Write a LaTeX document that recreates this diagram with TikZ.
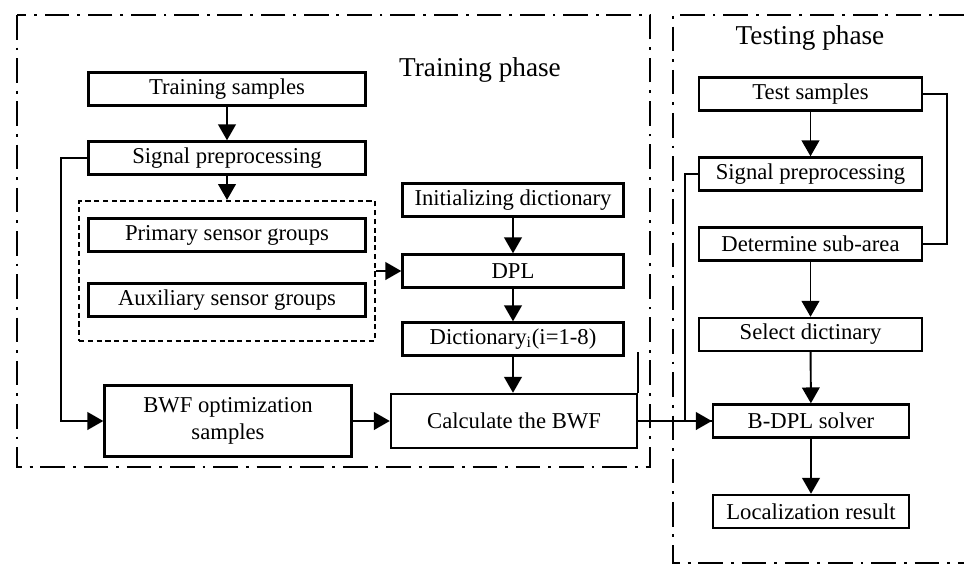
\documentclass[tikz,border=0pt]{standalone}
\usepackage{fontspec}
\setmainfont{Liberation Serif}
\usepackage{tikz}
\usetikzlibrary{positioning,calc,arrows.meta}

\begin{document}
\begin{tikzpicture}[x=0.02cm,y=-0.02cm,
    box/.style={draw,line width=1.4pt,rectangle,minimum height=0.66cm,inner sep=1pt,font=\fontsize{12.9}{15}\selectfont},
    leftbox/.style={box,minimum width=5.54cm},
    midbox/.style={box,minimum width=4.42cm},
    rightbox/.style={box,minimum width=4.46cm},
    solbox/.style={box,minimum width=3.92cm},
    phase/.style={font=\fontsize{15.5}{18}\selectfont},
    arr/.style={line width=1.1pt,-{Triangle[length=9pt,width=10pt]}},
    wire/.style={line width=1.1pt},
    dashdot/.style={line width=1.3pt,dash pattern=on 14pt off 4.5pt on 1.6pt off 4.5pt}]
    \useasboundingbox (0,0) rectangle (964,566);

    % Phase frames
    \draw[dashdot] (17,15) rectangle (650,467);
    \draw[dashdot] (964,15) -- (673,15) -- (673,563) -- (964,563);
    \node[phase] (trp) at (480,70) {Training phase};
    \node[phase] (tsp) at (810,38) {Testing phase};

    % Training phase
    \node[leftbox] (trs) at (227,89) {Training samples};
    \node[leftbox] (sp1) at (227,158) {Signal preprocessing};
    \node[draw,line width=1.2pt,dash pattern=on 3pt off 2pt,minimum width=5.92cm,minimum height=2.8cm] (grp) at (227,271) {};
    \node[leftbox] (pri) at (227,235) {Primary sensor groups};
    \node[leftbox] (aux) at (227,300) {Auxiliary sensor groups};
    \node[box,minimum width=4.94cm,minimum height=1.42cm,align=center] (bwo) at (228,421) {BWF optimization\\samples};

    \node[midbox] (ini) at (513,200) {Initializing dictionary};
    \node[midbox] (dpl) at (513,271) {DPL};
    \node[midbox] (dic) at (513,339) {Dictionary\textsubscript{i}(i=1-8)};
    \node[box,minimum width=4.92cm,minimum height=1.08cm] (cal) at (514,421) {Calculate the BWF};

    % Testing phase
    \node[rightbox] (tst) at (810.5,94) {Test samples};
    \node[rightbox] (sp2) at (810.5,174) {Signal preprocessing};
    \node[rightbox] (sub) at (810.5,244) {Determine sub-area};
    \node[rightbox] (sel) at (810.5,334.5) {Select dictinary};
    \node[solbox] (sol) at (811,421) {B-DPL solver};
    \node[solbox] (loc) at (811,511.5) {Localization result};

    % Training connectors
    \draw[arr] (trs) -- (sp1);
    \draw[arr] (sp1) -- (grp.north);
    \draw[arr] (grp.east) -- (dpl);
    \draw[arr] (ini) -- (dpl);
    \draw[arr] (dpl) -- (dic);
    \draw[arr] (dic.south) -- (dic.south |- cal.north);
    \draw[arr] (sp1.west) -- ++(-26,0) |- (bwo.west);
    \draw[arr] (bwo) -- (cal);
    \draw[wire] (cal.north east) -- ++(0,-41);

    % Testing connectors
    \draw[arr] (cal) -- (sol);
    \draw[arr] (tst) -- (sp2);
    \draw[wire] (tst.east) -- ++(24,0) |- (sub.east);
    \draw[wire] (sp2.west) -- ++(-13,0) |- (sol.west);
    \draw[arr] (sub) -- (sel);
    \draw[arr] (sel) -- (sol);
    \draw[arr] (sol) -- (loc);
\end{tikzpicture}
\end{document}
